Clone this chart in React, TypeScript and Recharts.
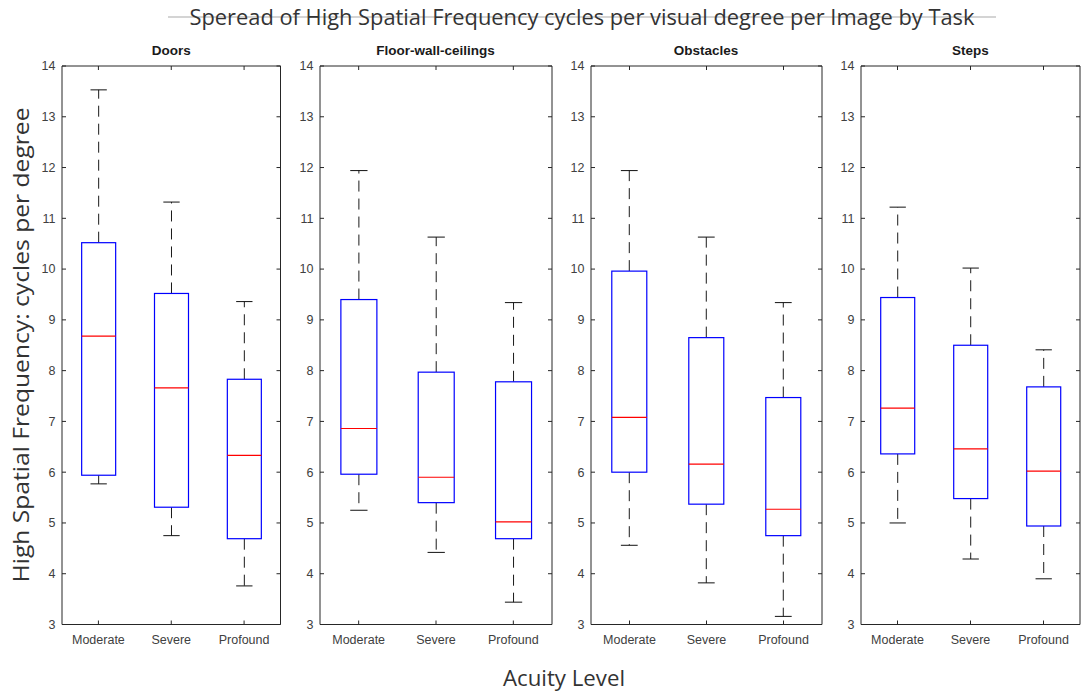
import React from 'react';
import { ComposedChart, Bar, XAxis, YAxis } from 'recharts';

const acuityLevels = ['Moderate', 'Severe', 'Profound'];
const yTicks = [3, 4, 5, 6, 7, 8, 9, 10, 11, 12, 13, 14];

// five-number summaries per acuity level: [min, q1, median, q3, max]
const doorsStats = [
  [5.77, 5.94, 8.68, 10.52, 13.53],
  [4.75, 5.31, 7.66, 9.52, 11.32],
  [3.76, 4.69, 6.33, 7.83, 9.36],
];
const floorWallStats = [
  [5.25, 5.96, 6.86, 9.4, 11.94],
  [4.42, 5.4, 5.9, 7.97, 10.63],
  [3.44, 4.69, 5.02, 7.78, 9.34],
];
const obstaclesStats = [
  [4.56, 6.0, 7.08, 9.96, 11.94],
  [3.82, 5.37, 6.16, 8.65, 10.63],
  [3.16, 4.75, 5.27, 7.47, 9.34],
];
const stepsStats = [
  [5.0, 6.36, 7.26, 9.44, 11.22],
  [4.29, 5.48, 6.46, 8.5, 10.02],
  [3.9, 4.94, 6.02, 7.68, 8.41],
];

const panels = [
  { title: 'Doors', stats: doorsStats, left: 62, right: 280.5 },
  { title: 'Floor-wall-ceilings', stats: floorWallStats, left: 319.5, right: 551.5 },
  { title: 'Obstacles', stats: obstaclesStats, left: 590.5, right: 821.5 },
  { title: 'Steps', stats: stepsStats, left: 861, right: 1080 },
];

const PLOT_TOP = 66;
const PLOT_BOTTOM = 624.5;
const PLOT_H = PLOT_BOTTOM - PLOT_TOP;
const HEIGHT = 694;
const Y_AXIS_W = 40;
const X_AXIS_H = 30;
const TICK_LEN = 4;
const X_TICK_GAP = 10.5;
const Y_TICK_GAP = 6.5;
const AXIS_COLOR = '#262626';
const TICK_FONT = { fontSize: 12.5, fill: '#404040', fontFamily: '"Liberation Sans", Arial, sans-serif' };

const toRows = (stats: number[][]) =>
  stats.map((s, i) => ({
    name: acuityLevels[i],
    min: s[0],
    q1: s[1],
    median: s[2],
    q3: s[3],
    max: s[4],
    range: [s[0], s[4]],
  }));

// whiskers, caps, box and median line, all placed from the bar's own min..max extent
const BoxShape = (props: any) => {
  const { x, y, width, height, payload } = props;
  if (payload == null || width == null) return null;
  const { min, q1, median, q3, max } = payload;
  const top = Math.min(y, y + height);
  const h = Math.abs(height);
  const toY = (v: number) => top + ((max - v) / (max - min)) * h;
  const cx = x + width / 2;
  const capHalf = width * 0.24;
  return (
    <g>
      <line x1={cx} x2={cx} y1={toY(q3)} y2={toY(max)} stroke="#1a1a1a" strokeDasharray="11 7" />
      <line x1={cx} x2={cx} y1={toY(q1)} y2={toY(min)} stroke="#1a1a1a" strokeDasharray="11 7" />
      <line x1={cx - capHalf} x2={cx + capHalf} y1={toY(max)} y2={toY(max)} stroke="#111" />
      <line x1={cx - capHalf} x2={cx + capHalf} y1={toY(min)} y2={toY(min)} stroke="#111" />
      <rect
        x={x}
        y={toY(q3)}
        width={width}
        height={toY(q1) - toY(q3)}
        fill="#fff"
        stroke="#0000ff"
        strokeWidth={1.2}
      />
      <line x1={x} x2={x + width} y1={toY(median)} y2={toY(median)} stroke="#ff0000" strokeWidth={1.2} />
    </g>
  );
};

const NoShape = () => null;

// y tick label plus inward tick marks on both the left and right frame edges
const makeYTick = (plotW: number) => (props: any) => {
  const { x, y, payload } = props;
  const edge = x + Y_TICK_GAP;
  return (
    <g>
      <line x1={edge} x2={edge + TICK_LEN} y1={y} y2={y} stroke={AXIS_COLOR} />
      <line x1={edge + plotW - TICK_LEN} x2={edge + plotW} y1={y} y2={y} stroke={AXIS_COLOR} />
      <text x={x} y={y} dy="0.35em" textAnchor="end" {...TICK_FONT}>
        {payload.value}
      </text>
    </g>
  );
};

// category label plus inward tick marks on the bottom and top frame edges
const XTick = (props: any) => {
  const { x, y, payload } = props;
  const edge = y - X_TICK_GAP;
  return (
    <g>
      <line x1={x} x2={x} y1={edge} y2={edge - TICK_LEN} stroke={AXIS_COLOR} />
      <line x1={x} x2={x} y1={edge - PLOT_H} y2={edge - PLOT_H + TICK_LEN} stroke={AXIS_COLOR} />
      <text x={x} y={y} dy="0.71em" textAnchor="middle" {...TICK_FONT}>
        {payload.value}
      </text>
    </g>
  );
};

const Panel = ({ title, stats, left, right }: any) => {
  const plotW = right - left;
  const chartW = Y_AXIS_W + plotW + 4;
  const rows = toRows(stats);
  return (
    <>
      <div
        style={{
          position: 'absolute',
          left: left,
          width: plotW,
          top: 43,
          textAlign: 'center',
          fontFamily: '"Liberation Sans", Arial, sans-serif',
          fontWeight: 'bold',
          fontSize: 13.5,
          color: '#1a1a1a',
        }}
      >
        {title}
      </div>
      <div style={{ position: 'absolute', left: left - Y_AXIS_W, top: 0 }}>
        <ComposedChart
          width={chartW}
          height={HEIGHT}
          data={rows}
          margin={{ top: PLOT_TOP - 1, right: 3, bottom: HEIGHT - PLOT_BOTTOM - X_AXIS_H, left: 0 }}
          barCategoryGap="27%"
        >
          <XAxis
            dataKey="name"
            height={X_AXIS_H}
            stroke={AXIS_COLOR}
            tickLine={false}
            tickSize={0}
            tickMargin={X_TICK_GAP}
            tick={XTick}
            interval={0}
          />
          <YAxis
            type="number"
            domain={[3, 14]}
            ticks={yTicks}
            allowDataOverflow
            width={Y_AXIS_W}
            stroke={AXIS_COLOR}
            tickLine={false}
            tickSize={0}
            tickMargin={Y_TICK_GAP}
            tick={makeYTick(plotW)}
            interval={0}
          />
          {/* top and right edges of the box frame */}
          <XAxis xAxisId="top" dataKey="name" orientation="top" height={1} stroke={AXIS_COLOR} tickLine={false} tick={false} />
          <YAxis yAxisId="right" orientation="right" type="number" domain={[3, 14]} allowDataOverflow width={1} stroke={AXIS_COLOR} tickLine={false} tick={false} />
          <Bar dataKey="range" fill="transparent" shape={BoxShape} isAnimationActive={false} />
          <Bar xAxisId="top" yAxisId="right" dataKey="range" shape={NoShape} isAnimationActive={false} />
        </ComposedChart>
      </div>
    </>
  );
};

export default function App() {
  return (
    <div
      style={{
        position: 'absolute',
        left: 0,
        top: 0,
        width: 1086,
        height: HEIGHT,
        background: '#fff',
        overflow: 'hidden',
      }}
    >
      <svg width={1086} height={HEIGHT} style={{ position: 'absolute', left: 0, top: 0 }}>
        <line x1={168} x2={996} y1={17} y2={17} stroke="#d4d4d4" strokeWidth={2} />
        <text
          x={582}
          y={25}
          textAnchor="middle"
          fontSize={21}
          fill="#333"
          fontFamily='"Open Sans", "Noto Sans", sans-serif'
          textLength={785}
          lengthAdjust="spacingAndGlyphs"
        >
          Speread of High Spatial Frequency cycles per visual degree per Image by Task
        </text>
        <text
          transform="translate(29 345) rotate(-90)"
          textAnchor="middle"
          fontSize={21}
          fill="#333"
          fontFamily='"Open Sans", "Noto Sans", sans-serif'
          textLength={475}
          lengthAdjust="spacingAndGlyphs"
        >
          High Spatial Frequency: cycles per degree
        </text>
        <text
          x={564}
          y={686}
          textAnchor="middle"
          fontSize={21}
          fill="#333"
          fontFamily='"Open Sans", "Noto Sans", sans-serif'
          textLength={122}
          lengthAdjust="spacingAndGlyphs"
        >
          Acuity Level
        </text>
      </svg>
      {panels.map((p) => (
        <Panel key={p.title} {...p} />
      ))}
    </div>
  );
}
